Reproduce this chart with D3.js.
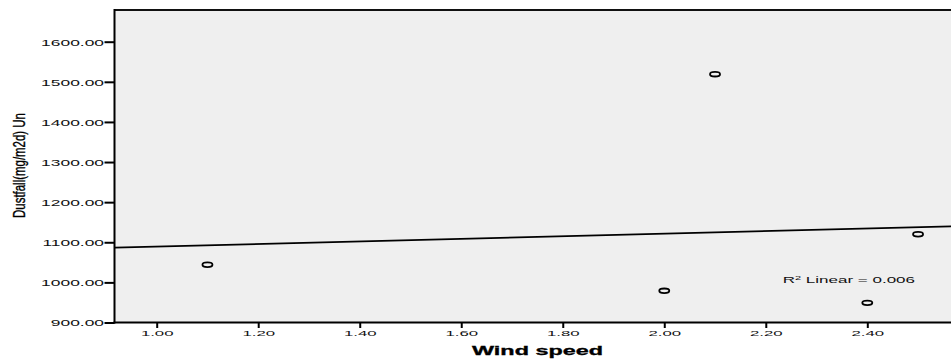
<!DOCTYPE html>
<html><head><meta charset="utf-8">
<script src="https://cdn.jsdelivr.net/npm/d3@7"></script>
<style>html,body{margin:0;padding:0;background:#fff;overflow:hidden;} svg{display:block;}</style>
</head><body>
<svg id="chart" width="951" height="362"></svg>
<script>
// ---- data ----
const windSpeed = [1.1, 2.0, 2.1, 2.4, 2.5];
const dustfall = [1044, 979, 1519, 949, 1120];
const xTickValues = [1.0, 1.2, 1.4, 1.6, 1.8, 2.0, 2.2, 2.4];
const yTickValues = [900, 1000, 1100, 1200, 1300, 1400, 1500, 1600];
const xTitle = "Wind speed";
const yTitle = "Dustfall(mg/m2d) Un";
const fitLabelPrefix = " Linear = ";

// ---- layout ----
const FONT = "'Liberation Sans', Arial, sans-serif";
const plot = {left: 114.5, right: 953, top: 10, bottom: 322.5};
const svg = d3.select("#chart");
const x = d3.scaleLinear().domain([1.0, 2.4]).range([156.7, 867.3]);
const y = d3.scaleLinear().domain([900, 1600]).range([322.5, 41.7]);

// plot background
svg.append("rect")
  .attr("x", plot.left).attr("y", plot.top)
  .attr("width", plot.right - plot.left).attr("height", plot.bottom - plot.top)
  .attr("fill", "#efefef");

// regression
const n = windSpeed.length;
const mx = d3.mean(windSpeed), my = d3.mean(dustfall);
let sxx = 0, sxy = 0, syy = 0;
for (let i = 0; i < n; i++) {
  sxx += (windSpeed[i] - mx) ** 2;
  syy += (dustfall[i] - my) ** 2;
  sxy += (windSpeed[i] - mx) * (dustfall[i] - my);
}
const slope = sxy / sxx, intercept = my - slope * mx;
const r2 = (sxy * sxy) / (sxx * syy);
const x0 = x.invert(plot.left), x1 = x.invert(plot.right);
svg.append("line")
  .attr("x1", x(x0)).attr("y1", y(intercept + slope * x0))
  .attr("x2", x(x1)).attr("y2", y(intercept + slope * x1))
  .attr("stroke", "#000").attr("stroke-width", 1.7);

// points
svg.append("g").selectAll("ellipse")
  .data(windSpeed.map((d, i) => [d, dustfall[i]]))
  .join("ellipse")
  .attr("cx", d => x(d[0])).attr("cy", d => y(d[1]))
  .attr("rx", 5).attr("ry", 2.3)
  .attr("fill", "none").attr("stroke", "#000").attr("stroke-width", 1.8);

// frame top line
svg.append("line").attr("x1", plot.left).attr("x2", plot.right)
  .attr("y1", plot.top).attr("y2", plot.top).attr("stroke", "#111").attr("stroke-width", 2);

// y axis
const yAxis = svg.append("g").attr("transform", `translate(${plot.left},0)`)
  .call(d3.axisLeft(y).tickValues(yTickValues).tickFormat(d3.format(".2f")).tickSize(10).tickPadding(0));
yAxis.select(".domain").remove();
yAxis.selectAll(".tick line").attr("stroke", "#000").attr("stroke-width", 2);
yAxis.selectAll(".tick text")
  .attr("x", null).attr("dy", null)
  .attr("transform", "translate(-10.5,3.3) scale(2.05,1)")
  .attr("text-anchor", "end")
  .attr("font-family", FONT).attr("font-size", 8.5).attr("fill", "#111");

// x axis
const xAxis = svg.append("g").attr("transform", `translate(0,${plot.bottom})`)
  .call(d3.axisBottom(x).tickValues(xTickValues).tickFormat(d3.format(".2f")).tickSize(5.5).tickPadding(0));
xAxis.select(".domain").remove();
xAxis.selectAll(".tick line").attr("stroke", "#000").attr("stroke-width", 2);
xAxis.selectAll(".tick text")
  .attr("y", null).attr("dy", null)
  .attr("transform", "translate(0,13) scale(2.1,1)")
  .attr("text-anchor", "middle")
  .attr("font-family", FONT).attr("font-size", 8).attr("fill", "#111");

svg.append("line").attr("x1", plot.left).attr("x2", plot.left)
  .attr("y1", plot.top - 1).attr("y2", plot.bottom + 1).attr("stroke", "#000").attr("stroke-width", 2);
svg.append("line").attr("x1", plot.left - 1).attr("x2", plot.right)
  .attr("y1", plot.bottom).attr("y2", plot.bottom).attr("stroke", "#000").attr("stroke-width", 2);

// stretch helper
function stretchTo(sel, target, tx, ty) {
  const w = sel.node().getComputedTextLength();
  sel.attr("transform", `translate(${tx},${ty}) scale(${target / w},1)`);
}

// x title
const xt = svg.append("text").text(xTitle)
  .attr("font-family", FONT).attr("font-weight", "bold").attr("font-size", 12)
  .attr("text-anchor", "middle").attr("fill", "#000")
  .attr("stroke", "#000").attr("stroke-width", 0.3);
stretchTo(xt, 131, 537.5, 354.5);

// y title (condensed)
const yt = svg.append("text").text(yTitle)
  .attr("font-family", FONT).attr("font-size", 16)
  .attr("text-anchor", "middle").attr("fill", "#000")
  .attr("stroke", "#000").attr("stroke-width", 0.35);
const ytw = yt.node().getComputedTextLength();
yt.attr("transform", `translate(24.5,165.5) rotate(-90) scale(${105 / ytw},1)`);

// R² label
const rl = svg.append("text").attr("font-family", FONT).attr("font-size", 8.5).attr("fill", "#111");
rl.append("tspan").text("R");
rl.append("tspan").text("2").attr("font-size", 5.5).attr("dy", -3);
rl.append("tspan").text(fitLabelPrefix + r2.toFixed(3)).attr("dy", 3);
const rw = rl.node().getBBox().width;
rl.attr("transform", `translate(782.7,282.7) scale(${133 / rw},1)`);
</script>
</body></html>
